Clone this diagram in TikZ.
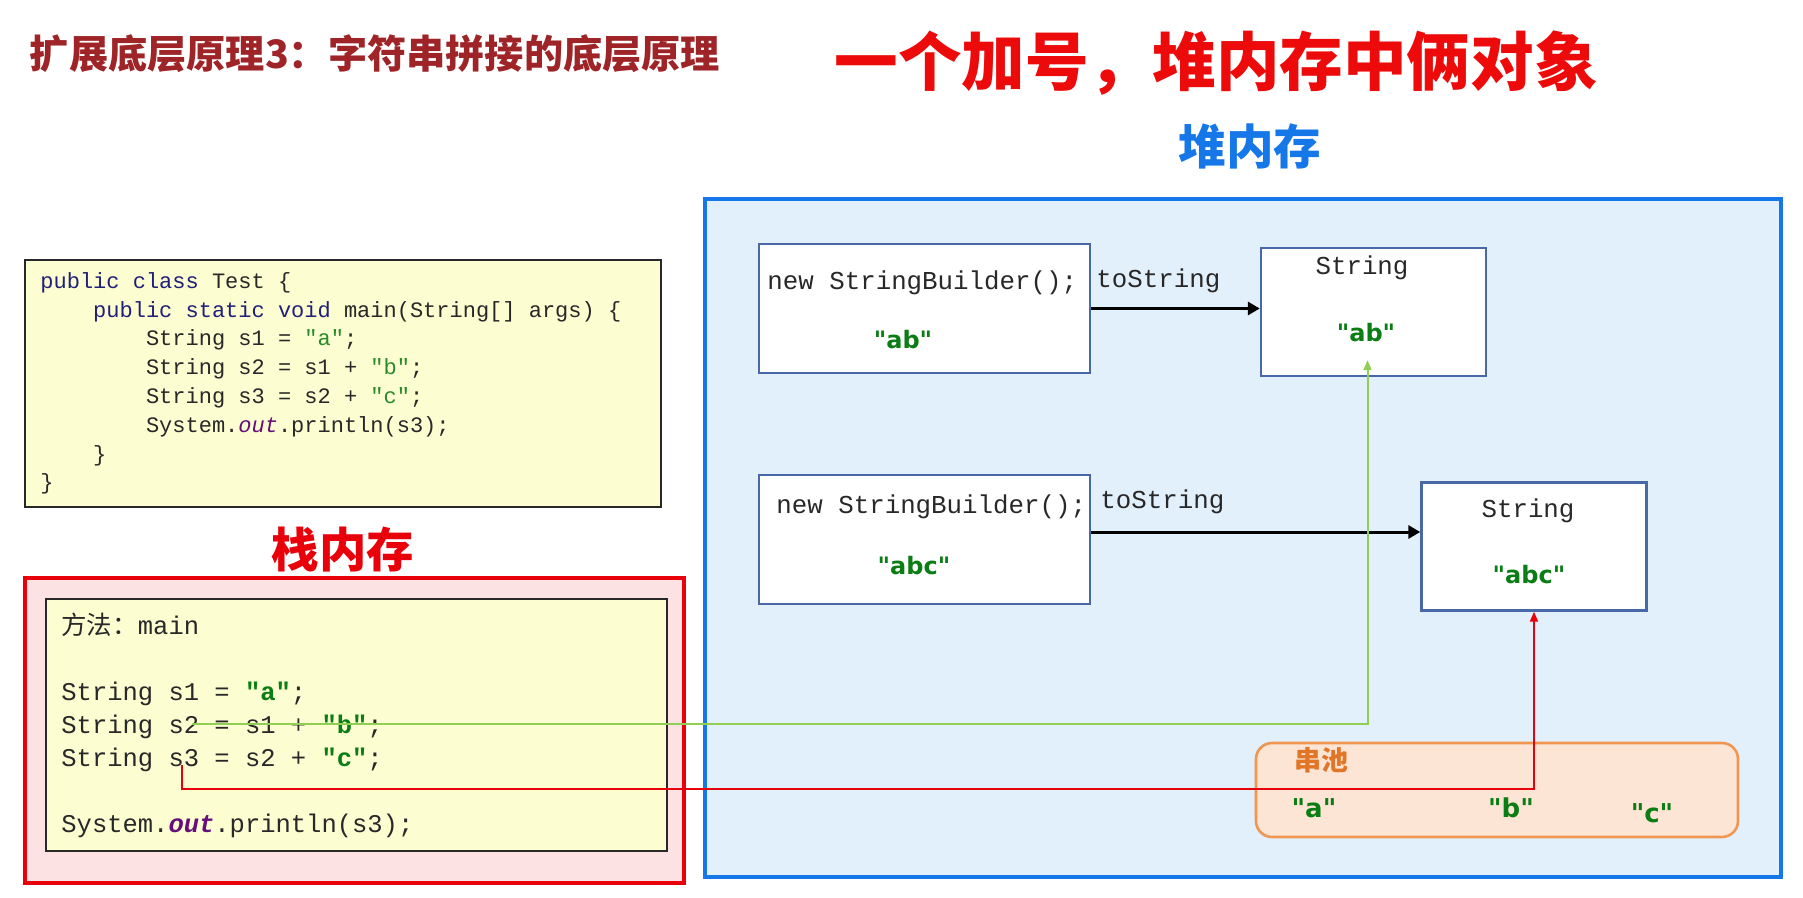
\documentclass[tikz,border=0pt]{standalone}
\usepackage{fontspec}
\setmainfont{Liberation Sans}
\setmonofont{Liberation Mono}
\newfontfamily\cjk{Noto Sans CJK SC}
\newfontfamily\quotefont{DejaVu Sans}
\usetikzlibrary{positioning,arrows.meta}
\definecolor{titlered}{RGB}{158,36,40}
\definecolor{bigred}{RGB}{236,10,10}
\definecolor{heapblue}{RGB}{22,120,232}
\definecolor{heapfill}{RGB}{226,240,252}
\definecolor{stackred}{RGB}{232,0,10}
\definecolor{stackfill}{RGB}{253,226,228}
\definecolor{codefill}{RGB}{253,253,210}
\definecolor{boxblue}{RGB}{72,104,166}
\definecolor{poolorange}{RGB}{240,150,80}
\definecolor{poolfill}{RGB}{253,229,213}
\definecolor{pooltext}{RGB}{226,118,40}
\definecolor{kwblue}{RGB}{32,32,120}
\definecolor{strgreen}{RGB}{42,138,42}
\definecolor{boldgreen}{RGB}{10,125,20}
\definecolor{outpurple}{RGB}{102,14,122}
\definecolor{refgreen}{RGB}{146,206,84}
\definecolor{codegray}{RGB}{40,40,40}
\newcommand\kw[1]{\textcolor{kwblue}{#1}}
\newcommand\jstr[1]{\textcolor{strgreen}{"#1"}}
\newcommand\bjstr[1]{\textcolor{boldgreen}{\textbf{"#1"}}}
\newcommand\outfld[1]{\textcolor{outpurple}{#1{out}}}
\newcommand\codeind{\hspace*{2.4em}}

\begin{document}
\begin{tikzpicture}[x=0.5pt,y=-0.5pt]
% 1. Koordinaten
\coordinate (bbNW) at (0,0);
\coordinate (bbSE) at (1803,898);
\coordinate (heapNW) at (705,199);
\coordinate (heapSE) at (1781,877);
\coordinate (stackNW) at (25,578);
\coordinate (stackSE) at (684,883);
\coordinate (frameNW) at (46,599);
\coordinate (frameSE) at (667,851);
\coordinate (codeNW) at (25,260);
\coordinate (codeSE) at (661,507);
\coordinate (poolNW) at (1256,743);
\coordinate (poolSE) at (1738,837);
\coordinate (s2ref) at (192,724);
\coordinate (s3ref) at (182,765);

\useasboundingbox (bbNW) rectangle (bbSE);

% 2. Stile
\tikzset{
  code box/.style={draw=codegray, line width=1pt, fill=codefill},
  heap box/.style={draw=heapblue, line width=2pt, fill=heapfill},
  stack box/.style={draw=stackred, line width=2pt, fill=stackfill},
  pool box/.style={draw=poolorange, line width=1.3pt, fill=poolfill, rounded corners=8pt},
  obj box/.style={draw=boxblue, line width=1.2pt, fill=white, inner sep=0pt},
  sb box/.style={obj box, minimum width=165.5pt, minimum height=64.5pt},
  str box/.style={obj box, minimum width=112.5pt, minimum height=64pt},
  code text/.style={inner sep=0pt, align=left, text=codegray,
    font=\fontsize{11}{14.4}\selectfont\ttfamily},
  frame text/.style={inner sep=0pt, align=left, text=codegray,
    font=\fontsize{12.75}{16.5}\selectfont\ttfamily},
  heap code/.style={inner sep=0pt, text=codegray, font=\fontsize{12.9}{15}\selectfont\ttfamily},
  heap quote/.style={inner sep=0pt, text=boldgreen, font=\fontsize{12}{14}\selectfont\quotefont\bfseries},
  pool quote/.style={inner sep=0pt, text=boldgreen, font=\fontsize{13}{15}\selectfont\quotefont\bfseries},
  to arrow/.style={draw=black, line width=1.5pt, -{Triangle[length=6pt,width=6.5pt]}},
  green ref/.style={draw=refgreen, line width=1pt, -{Triangle[length=5pt,width=4pt]}},
  red ref/.style={draw=stackred, line width=1pt, -{Triangle[length=5pt,width=4pt]}}
}

% 3. Flaechen
\draw [heap box] (heapNW) rectangle (heapSE);
\draw [code box] (codeNW) rectangle (codeSE);
\draw [stack box] (stackNW) rectangle (stackSE);
\draw [code box] (frameNW) rectangle (frameSE);
\draw [pool box] (poolNW) rectangle (poolSE);

% 4. Ueberschriften
\node [inner sep=0pt, text=titlered, font=\fontsize{19.6}{22}\selectfont\cjk\bfseries] (subtitle) at (375,54) {扩展底层原理3：字符串拼接的底层原理};
\node [inner sep=0pt, text=bigred, font=\fontsize{31.8}{34}\selectfont\cjk\bfseries] (maintitle) at (1216,63) {一个加号，堆内存中俩对象};
\node [inner sep=0pt, text=heapblue, font=\fontsize{23.8}{26}\selectfont\cjk\bfseries] (heaptitle) at (1250,146) {堆内存};
\node [inner sep=0pt, text=stackred, font=\fontsize{23.7}{26}\selectfont\cjk\bfseries] (stacktitle) at (343,550) {栈内存};

% 5. Quelltext
\node [code text, anchor=north west] (code) at (40,272) {%
\kw{public class} Test \{\\
\codeind\kw{public static void} main(String[] args) \{\\
\codeind\codeind String s1 = \jstr{a};\\
\codeind\codeind String s2 = s1 + \jstr{b};\\
\codeind\codeind String s3 = s2 + \jstr{c};\\
\codeind\codeind System.\outfld\textit.println(s3);\\
\codeind\}\\
\}};
\node [frame text, anchor=north west] (frame) at (61,613) {%
{\cjk 方法：}main\\[16.5pt]
String s1 = \bjstr{a};\\
String s2 = s1 + \bjstr{b};\\
String s3 = s2 + \bjstr{c};\\[16.5pt]
System.\outfld{\bfseries\itshape}.println(s3);};

% 6. Objekte im Heap
\node [sb box] (sb1) at (924.5,308.5) {};
\node [str box] (str1) at (1373.5,312) {};
\node [sb box] (sb2) at (924.5,539.5) {};
\node [str box] (str2) at (1534,546.5) {};

\node [heap code, anchor=base west] (sb1new) at (767,290) {new StringBuilder();};
\node [heap quote] (sb1val) at (903,340) {"ab"};
\node [heap code] (str1type) at (1362,268) {String};
\node [heap quote] (str1val) at (1366,333) {"ab"};
\node [heap code, anchor=base west] (sb2new) at (776,513) {new StringBuilder();};
\node [heap quote] (sb2val) at (914,566) {"abc"};
\node [heap code] (str2type) at (1528,511) {String};
\node [heap quote] (str2val) at (1529,575) {"abc"};
\node [heap code, anchor=base west] (conv1) at (1096,288) {toString};
\node [heap code, anchor=base west] (conv2) at (1100,508) {toString};

% 7. Pool
\node [inner sep=0pt, text=pooltext, font=\fontsize{13.5}{15}\selectfont\cjk\bfseries] (pooltitle) at (1321,760) {串池};
\node [pool quote] (poola) at (1314,808) {"a"};
\node [pool quote] (poolb) at (1511,808) {"b"};
\node [pool quote] (poolc) at (1652,813) {"c"};

% 8. Pfeile
\coordinate (a2) at ([yshift=3.75pt]sb2.east);
\draw [to arrow] (sb1.east) -- (sb1.east -| str1.west);
\draw [to arrow] (a2) -- (a2 -| str2.west);
\draw [green ref] (s2ref) -| ([xshift=-3pt,yshift=8.5pt]str1.south);
\draw [red ref] (s3ref) -- ++(0,24) -| (str2.south);

\end{tikzpicture}
\end{document}
